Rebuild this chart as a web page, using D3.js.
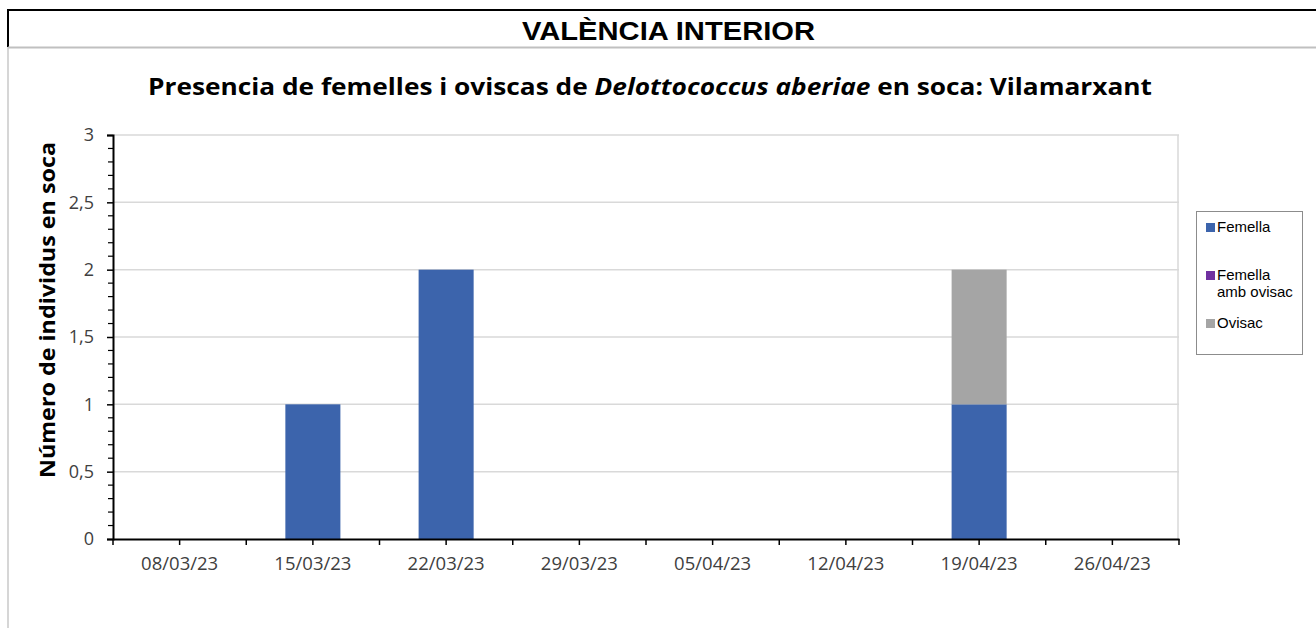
<!DOCTYPE html>
<html>
<head>
<meta charset="utf-8">
<script src="https://cdn.jsdelivr.net/npm/d3@7"></script>
<style>
  body { margin: 0; background: #fff; }
  svg { display: block; }
</style>
</head>
<body>
<svg id="chart" width="1316" height="628"></svg>
<script>
const dates = ["08/03/23", "15/03/23", "22/03/23", "29/03/23", "05/04/23", "12/04/23", "19/04/23", "26/04/23"];
const femella = [0, 1, 2, 0, 0, 0, 1, 0];
const femellaOvisac = [0, 0, 0, 0, 0, 0, 0, 0];
const ovisac = [0, 0, 0, 0, 0, 0, 1, 0];
const seriesNames = ["Femella", "Femella amb ovisac", "Ovisac"];
const seriesColors = ["#3C64AC", "#7030A0", "#A5A5A5"];
const yTicks = [0, 0.5, 1, 1.5, 2, 2.5, 3];

const svg = d3.select("#chart");
const width = +svg.attr("width");
const font = "'Open Sans', 'Noto Sans', sans-serif";
const arial = "'Liberation Sans', Arial, sans-serif";

// header frame
svg.append("line").attr("x1", 8).attr("x2", width).attr("y1", 10).attr("y2", 10)
  .attr("stroke", "#000").attr("stroke-width", 2);
svg.append("line").attr("x1", 8).attr("x2", 8).attr("y1", 9).attr("y2", 47)
  .attr("stroke", "#000").attr("stroke-width", 2);
svg.append("line").attr("x1", 8).attr("x2", width).attr("y1", 47.5).attr("y2", 47.5)
  .attr("stroke", "#c0c0c0").attr("stroke-width", 2);
svg.append("line").attr("x1", 8).attr("x2", 8).attr("y1", 47).attr("y2", 628)
  .attr("stroke", "#c8c8c8").attr("stroke-width", 1.5);

svg.append("text")
  .attr("x", 522).attr("y", 40)
  .attr("textLength", 293).attr("lengthAdjust", "spacingAndGlyphs")
  .attr("font-family", arial)
  .attr("font-weight", "bold")
  .attr("font-size", "25px")
  .text("VALÈNCIA INTERIOR");

// chart title
const title = svg.append("text")
  .attr("x", 148).attr("y", 95)
  .attr("textLength", 1004).attr("lengthAdjust", "spacingAndGlyphs")
  .attr("font-family", font)
  .attr("font-weight", "bold")
  .attr("font-size", "24px")
  .attr("fill", "#000");
title.append("tspan").text("Presencia de femelles i oviscas de ");
title.append("tspan").attr("font-style", "italic").text("Delottococcus aberiae");
title.append("tspan").text(" en soca: Vilamarxant");

const margin = { top: 135, left: 113, right: 1179, bottom: 539 };

const x = d3.scaleBand().domain(dates).range([margin.left, margin.right]).paddingInner(0).paddingOuter(0);
const y = d3.scaleLinear().domain([0, 3]).range([margin.bottom, margin.top]);

const chart = svg.append("g");

// gridlines
chart.selectAll(".grid")
  .data(yTicks.filter(d => d > 0))
  .enter().append("line")
  .attr("x1", margin.left).attr("x2", margin.right)
  .attr("y1", d => y(d)).attr("y2", d => y(d))
  .attr("stroke", "#d9d9d9").attr("stroke-width", 1.5);
chart.append("line")
  .attr("x1", margin.right - 1).attr("x2", margin.right - 1)
  .attr("y1", margin.top).attr("y2", margin.bottom)
  .attr("stroke", "#d9d9d9").attr("stroke-width", 1.5);

// stacked bars
const rows = dates.map((d, i) => ({ date: d, Femella: femella[i], "Femella amb ovisac": femellaOvisac[i], Ovisac: ovisac[i] }));
const stack = d3.stack().keys(seriesNames)(rows);
const barW = x.bandwidth() * 0.413;

chart.selectAll(".series")
  .data(stack)
  .enter().append("g")
  .attr("fill", (d, i) => seriesColors[i])
  .selectAll("rect")
  .data(d => d.filter(p => p[1] - p[0] > 0))
  .enter().append("rect")
  .attr("x", d => x(d.data.date) + (x.bandwidth() - barW) / 2)
  .attr("width", barW)
  .attr("y", d => y(d[1]))
  .attr("height", d => y(d[0]) - y(d[1]));

// y axis
const yAxis = chart.append("g")
  .attr("transform", `translate(${margin.left},0)`)
  .call(d3.axisLeft(y).tickValues(yTicks).tickSize(6).tickPadding(13)
    .tickFormat(d => String(d).replace(".", ",")));
yAxis.select(".domain").attr("stroke", "#000").attr("stroke-width", 2);
yAxis.selectAll(".tick line").attr("stroke", "#000").attr("stroke-width", 1.5);
yAxis.selectAll("text").attr("font-family", font).attr("font-size", "18px").attr("fill", "#404040");

const minor = d3.range(0, 30).map(i => i / 10).filter(v => Math.round(v * 10) % 5 !== 0);
chart.append("g").selectAll("line")
  .data(minor)
  .enter().append("line")
  .attr("x1", margin.left - 5).attr("x2", margin.left)
  .attr("y1", d => y(d)).attr("y2", d => y(d))
  .attr("stroke", "#000").attr("stroke-width", 1.2);

// x axis
const xAxis = chart.append("g")
  .attr("transform", `translate(0,${margin.bottom})`)
  .call(d3.axisBottom(x).tickSize(0).tickPadding(18));
xAxis.select(".domain").attr("stroke", "#000").attr("stroke-width", 2);
xAxis.selectAll("text").attr("font-family", font).attr("font-size", "18.5px").attr("fill", "#404040");

const xTickPos = [];
dates.forEach(d => { xTickPos.push(x(d)); xTickPos.push(x(d) + x.bandwidth() / 2); });
xTickPos.push(margin.right);
chart.append("g").selectAll("line")
  .data(xTickPos)
  .enter().append("line")
  .attr("x1", d => d).attr("x2", d => d)
  .attr("y1", margin.bottom).attr("y2", margin.bottom + 6)
  .attr("stroke", "#000").attr("stroke-width", 1.5);

// y title
svg.append("text")
  .attr("transform", "translate(55,478) rotate(-90)")
  .attr("textLength", 336).attr("lengthAdjust", "spacingAndGlyphs")
  .attr("font-family", font)
  .attr("font-weight", "bold")
  .attr("font-size", "22px")
  .text("Número de individus en soca");

// legend
const legend = svg.append("g");
legend.append("rect")
  .attr("x", 1196.5).attr("y", 211.5).attr("width", 106).attr("height", 143)
  .attr("fill", "#fff").attr("stroke", "#8c8c8c");
const legendItems = [
  { lines: ["Femella"], y: 232 },
  { lines: ["Femella", "amb ovisac"], y: 280 },
  { lines: ["Ovisac"], y: 328 }
];
legendItems.forEach((it, i) => {
  legend.append("rect")
    .attr("x", 1206).attr("y", it.y - 9).attr("width", 9).attr("height", 9)
    .attr("fill", seriesColors[i]);
  const t = legend.append("text")
    .attr("x", 1217).attr("y", it.y)
    .attr("font-family", arial)
    .attr("font-size", "15px")
    .attr("fill", "#000");
  it.lines.forEach((l, j) => t.append("tspan").attr("x", 1217).attr("dy", j === 0 ? 0 : 17).text(l));
});
</script>
</body>
</html>
